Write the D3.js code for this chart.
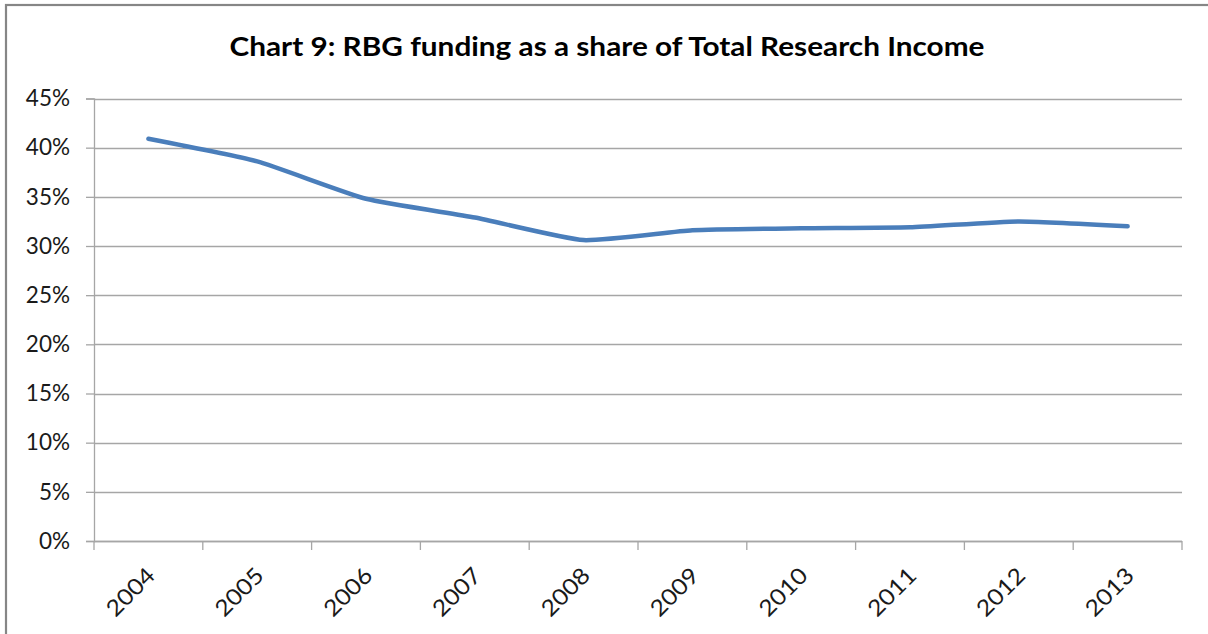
<!DOCTYPE html>
<html>
<head>
<meta charset="utf-8">
<script src="https://cdn.jsdelivr.net/npm/d3@7"></script>
<style>
  html, body { margin: 0; padding: 0; background: #fff; }
  svg { display: block; font-family: Lato, "Open Sans", sans-serif; }
</style>
</head>
<body>
<svg id="chart" width="1208" height="634"></svg>
<script>
// Chart content
const title = "Chart 9: RBG funding as a share of Total Research Income";
const years = ["2004", "2005", "2006", "2007", "2008", "2009", "2010", "2011", "2012", "2013"];
const rbgShare = [40.9, 38.6, 34.8, 32.9, 30.6, 31.6, 31.8, 31.9, 32.5, 32.0];
const yTicks = [0, 5, 10, 15, 20, 25, 30, 35, 40, 45];

const svg = d3.select("#chart");

// Outer frame (runs off the right and bottom edges)
svg.append("rect")
  .attr("x", 6).attr("y", 5)
  .attr("width", 1210).attr("height", 640)
  .attr("fill", "#fff")
  .attr("stroke", "#868686")
  .attr("stroke-width", 2.2);

const plot = { left: 94, right: 1182, top: 98.5, bottom: 541 };

const x = d3.scaleBand().domain(years).range([plot.left, plot.right]);
const y = d3.scaleLinear().domain([0, 45]).range([plot.bottom, plot.top]);

// Title (glyphs widened to the chart's wide lettering)
svg.append("text")
  .attr("x", 607).attr("y", 56)
  .attr("text-anchor", "middle")
  .attr("font-size", 27)
  .attr("font-weight", "bold")
  .attr("fill", "#000")
  .attr("textLength", 755)
  .attr("lengthAdjust", "spacingAndGlyphs")
  .text(title);

// Horizontal gridlines
svg.append("g")
  .selectAll("line")
  .data(yTicks)
  .join("line")
  .attr("x1", plot.left).attr("x2", plot.right)
  .attr("y1", d => Math.round(y(d)) + 0.5)
  .attr("y2", d => Math.round(y(d)) + 0.5)
  .attr("stroke", "#a6a6a6")
  .attr("stroke-width", 1.3);

// Y axis
const yAxis = svg.append("g")
  .attr("transform", `translate(${plot.left},0)`)
  .call(d3.axisLeft(y).tickValues(yTicks).tickFormat(d => d + "%").tickSize(8).tickPadding(16));
yAxis.select(".domain").attr("stroke", "#a6a6a6").attr("stroke-width", 1.3);
yAxis.selectAll(".tick line").attr("stroke", "#a6a6a6").attr("stroke-width", 1.3);
yAxis.selectAll(".tick text")
  .attr("font-size", 22.5)
  .attr("fill", "#1a1a1a")
  .attr("font-family", "Lato, 'Open Sans', sans-serif");

// X axis with ticks at category boundaries
const boundaries = years.map(d => x(d)).concat([plot.right]);
svg.append("line")
  .attr("x1", plot.left).attr("x2", plot.right)
  .attr("y1", plot.bottom + 0.5).attr("y2", plot.bottom + 0.5)
  .attr("stroke", "#a6a6a6").attr("stroke-width", 1.3);
svg.append("g")
  .selectAll("line")
  .data(boundaries)
  .join("line")
  .attr("x1", d => d).attr("x2", d => d)
  .attr("y1", plot.bottom).attr("y2", plot.bottom + 9)
  .attr("stroke", "#a6a6a6").attr("stroke-width", 1.3);

svg.append("g")
  .selectAll("text")
  .data(years)
  .join("text")
  .attr("transform", d => `translate(${x(d) + x.bandwidth() / 2 + 8},${plot.bottom + 36}) rotate(-45)`)
  .attr("text-anchor", "end")
  .attr("font-size", 22.5)
  .attr("fill", "#1a1a1a")
  .attr("textLength", 58)
  .attr("lengthAdjust", "spacingAndGlyphs")
  .text(d => d);

// Data line
const line = d3.line()
  .x((d, i) => x(years[i]) + x.bandwidth() / 2)
  .y(d => y(d))
  .curve(d3.curveCardinal.tension(0.5));

svg.append("path")
  .datum(rbgShare)
  .attr("d", line)
  .attr("fill", "none")
  .attr("stroke", "#4a7ebb")
  .attr("stroke-width", 4.5)
  .attr("stroke-linecap", "round")
  .attr("stroke-linejoin", "round");
</script>
</body>
</html>
